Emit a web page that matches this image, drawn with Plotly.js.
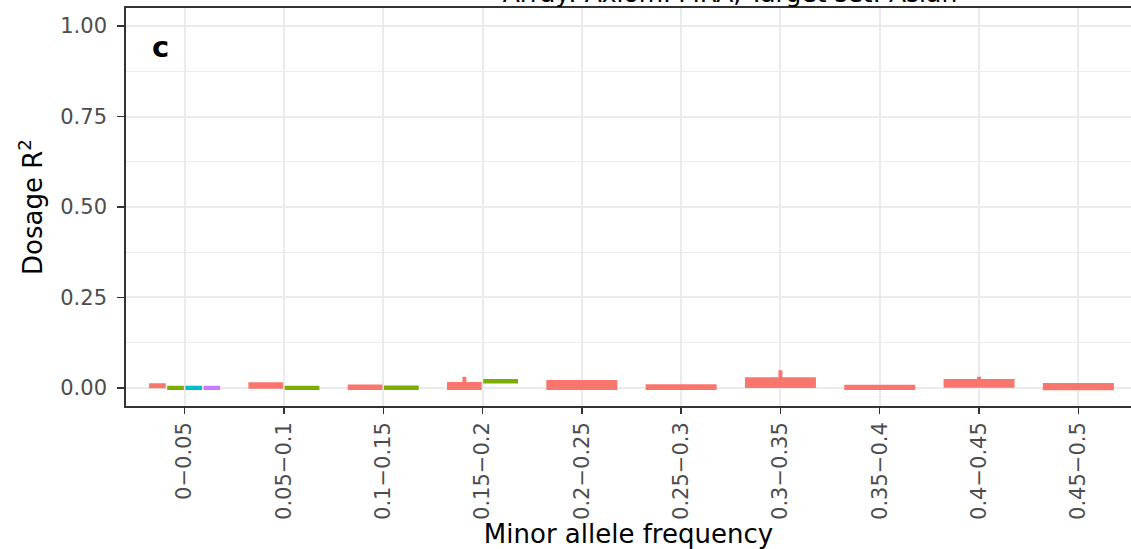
<!DOCTYPE html>
<html>
<head>
<meta charset="utf-8">
<script src="https://cdn.plot.ly/plotly-3.0.1.min.js"></script>
<style>html,body{margin:0;padding:0;background:#fff;}#chart{width:1131px;height:549px;}</style>
</head>
<body>
<div id="chart"></div>
<script>
// Categories (minor allele frequency bins)
const categories = ["0\u22120.05","0.05\u22120.1","0.1\u22120.15","0.15\u22120.2","0.2\u22120.25","0.25\u22120.3","0.3\u22120.35","0.35\u22120.4","0.4\u22120.45","0.45\u22120.5"];

// Group names and colours
const groups = ["Group 1","Group 2","Group 3","Group 4"];
const groupColors = ["#F8766D","#7CAE00","#00BFC4","#C77CFF"];

// Box statistics per group (null = no box in that bin)
const g1_lower  = [0.0045,0.003,0.000,0.000,0.000,0.000,0.005,0.000,0.006,-0.001];
const g1_q1     = [0.0045,0.003,0.000,0.000,0.000,0.000,0.005,0.000,0.006,-0.001];
const g1_median = [0.006,0.006,0.002,0.0075,0.008,0.002,0.021,0.0015,0.015,0.003];
const g1_q3     = [0.0075,0.010,0.004,0.011,0.0166,0.0047,0.024,0.003,0.019,0.008];
const g1_upper  = [0.0075,0.010,0.004,0.031,0.0166,0.0047,0.049,0.003,0.031,0.008];

const g2_lower  = [0.000,0.000,0.000,0.018,null,null,null,null,null,null];
const g2_q1     = [0.000,0.000,0.000,0.018,null,null,null,null,null,null];
const g2_median = [0.0003,0.0003,0.0004,0.0185,null,null,null,null,null,null];
const g2_q3     = [0.0006,0.0006,0.0008,0.019,null,null,null,null,null,null];
const g2_upper  = [0.0006,0.0006,0.0008,0.019,null,null,null,null,null,null];

const g3_lower  = [0.000,null,null,null,null,null,null,null,null,null];
const g3_q1     = [0.000,null,null,null,null,null,null,null,null,null];
const g3_median = [0.0003,null,null,null,null,null,null,null,null,null];
const g3_q3     = [0.0006,null,null,null,null,null,null,null,null,null];
const g3_upper  = [0.0006,null,null,null,null,null,null,null,null,null];

const g4_lower  = [0.000,null,null,null,null,null,null,null,null,null];
const g4_q1     = [0.000,null,null,null,null,null,null,null,null,null];
const g4_median = [0.0003,null,null,null,null,null,null,null,null,null];
const g4_q3     = [0.0006,null,null,null,null,null,null,null,null,null];
const g4_upper  = [0.0006,null,null,null,null,null,null,null,null,null];

const yTickVals = [0,0.25,0.5,0.75,1];
const yTickText = ["0.00","0.25","0.50","0.75","1.00"];
const yMinorVals = [0.125,0.375,0.625,0.875];

const stats = [
  {lower:g1_lower,q1:g1_q1,median:g1_median,q3:g1_q3,upper:g1_upper},
  {lower:g2_lower,q1:g2_q1,median:g2_median,q3:g2_q3,upper:g2_upper},
  {lower:g3_lower,q1:g3_q1,median:g3_median,q3:g3_q3,upper:g3_upper},
  {lower:g4_lower,q1:g4_q1,median:g4_median,q3:g4_q3,upper:g4_upper}
];

// dodge layout (ggplot-like: boxes share the available width among present groups)
const DODGE = 0.73;
const LW = 4;
const PX_PER_UNIT = 99.3;
const traces = [];
categories.forEach((cat, ci) => {
  const present = [];
  stats.forEach((s, gi) => { if (s.q1[ci] !== null) present.push(gi); });
  const n = present.length;
  present.forEach((gi, k) => {
    const s = stats[gi];
    const xpos = ci - DODGE/2 + (k + 0.5) * DODGE / n;
    traces.push({
      type: 'box',
      name: groups[gi],
      showlegend: false,
      x: [xpos],
      q1: [s.q1[ci]], median: [s.median[ci]], q3: [s.q3[ci]],
      lowerfence: [s.lower[ci]], upperfence: [s.upper[ci]],
      width: DODGE / n - (LW + 1.5) / PX_PER_UNIT,
      whiskerwidth: 0,
      fillcolor: groupColors[gi],
      line: {color: groupColors[gi], width: LW},
      marker: {color: groupColors[gi]},
      hoverinfo: 'y'
    });
  });
});

const FONT = "DejaVu Sans, Arial, sans-serif";
const layout = {
  width: 1131, height: 549,
  margin: {l: 126, r: 0, t: 8, b: 143},
  paper_bgcolor: '#ffffff', plot_bgcolor: '#ffffff',
  boxmode: 'overlay',
  showlegend: false,
  font: {family: FONT, color: '#000000'},
  title: {
    text: 'Array: AxiomPMRA, Target set: Asian',
    font: {family: FONT, size: 25, color: '#000000'},
    x: 730/1131, xref: 'container', xanchor: 'center',
    y: 1 - 2/549, yref: 'container', yanchor: 'bottom'
  },
  xaxis: {
    type: 'linear',
    range: [-0.59, 9.53],
    tickvals: categories.map((c, i) => i),
    ticktext: categories,
    tickangle: -90,
    tickfont: {family: FONT, size: 21, color: '#4D4D4D'},
    ticks: 'outside', ticklen: 6, tickwidth: 1.4, tickcolor: '#333333',
    showgrid: true, gridcolor: '#EBEBEB', gridwidth: 2,
    zeroline: false,
    showline: true, mirror: true, linecolor: '#333333', linewidth: 1.8,
    title: {text: 'Minor allele frequency', font: {family: FONT, size: 26, color: '#000000'}, standoff: 6},
    automargin: false, fixedrange: true
  },
  yaxis: {
    range: [-0.05, 1.05],
    tickvals: yTickVals,
    ticktext: yTickText,
    tickfont: {family: FONT, size: 21, color: '#4D4D4D'},
    ticks: 'outside', ticklen: 7, tickwidth: 1.4, tickcolor: '#333333',
    ticklabelstandoff: 6,
    showgrid: true, gridcolor: '#EBEBEB', gridwidth: 2,
    minor: {tickvals: yMinorVals, showgrid: true, gridcolor: '#EBEBEB', gridwidth: 1, ticks: ''},
    zeroline: false,
    showline: true, mirror: true, linecolor: '#333333', linewidth: 1.8,
    title: {text: 'Dosage R<sup>2</sup>', font: {family: FONT, size: 26, color: '#000000'}, standoff: 10},
    automargin: false, fixedrange: true
  },
  annotations: [{
    text: '<b>c</b>', xref: 'paper', yref: 'paper',
    x: (160-126)/1005, y: (549-143-47)/398, xanchor: 'center', yanchor: 'middle',
    showarrow: false, font: {family: FONT, size: 29, color: '#000000'}
  }]
};

Plotly.newPlot('chart', traces, layout, {displayModeBar: false, staticPlot: true});
</script>
</body>
</html>
